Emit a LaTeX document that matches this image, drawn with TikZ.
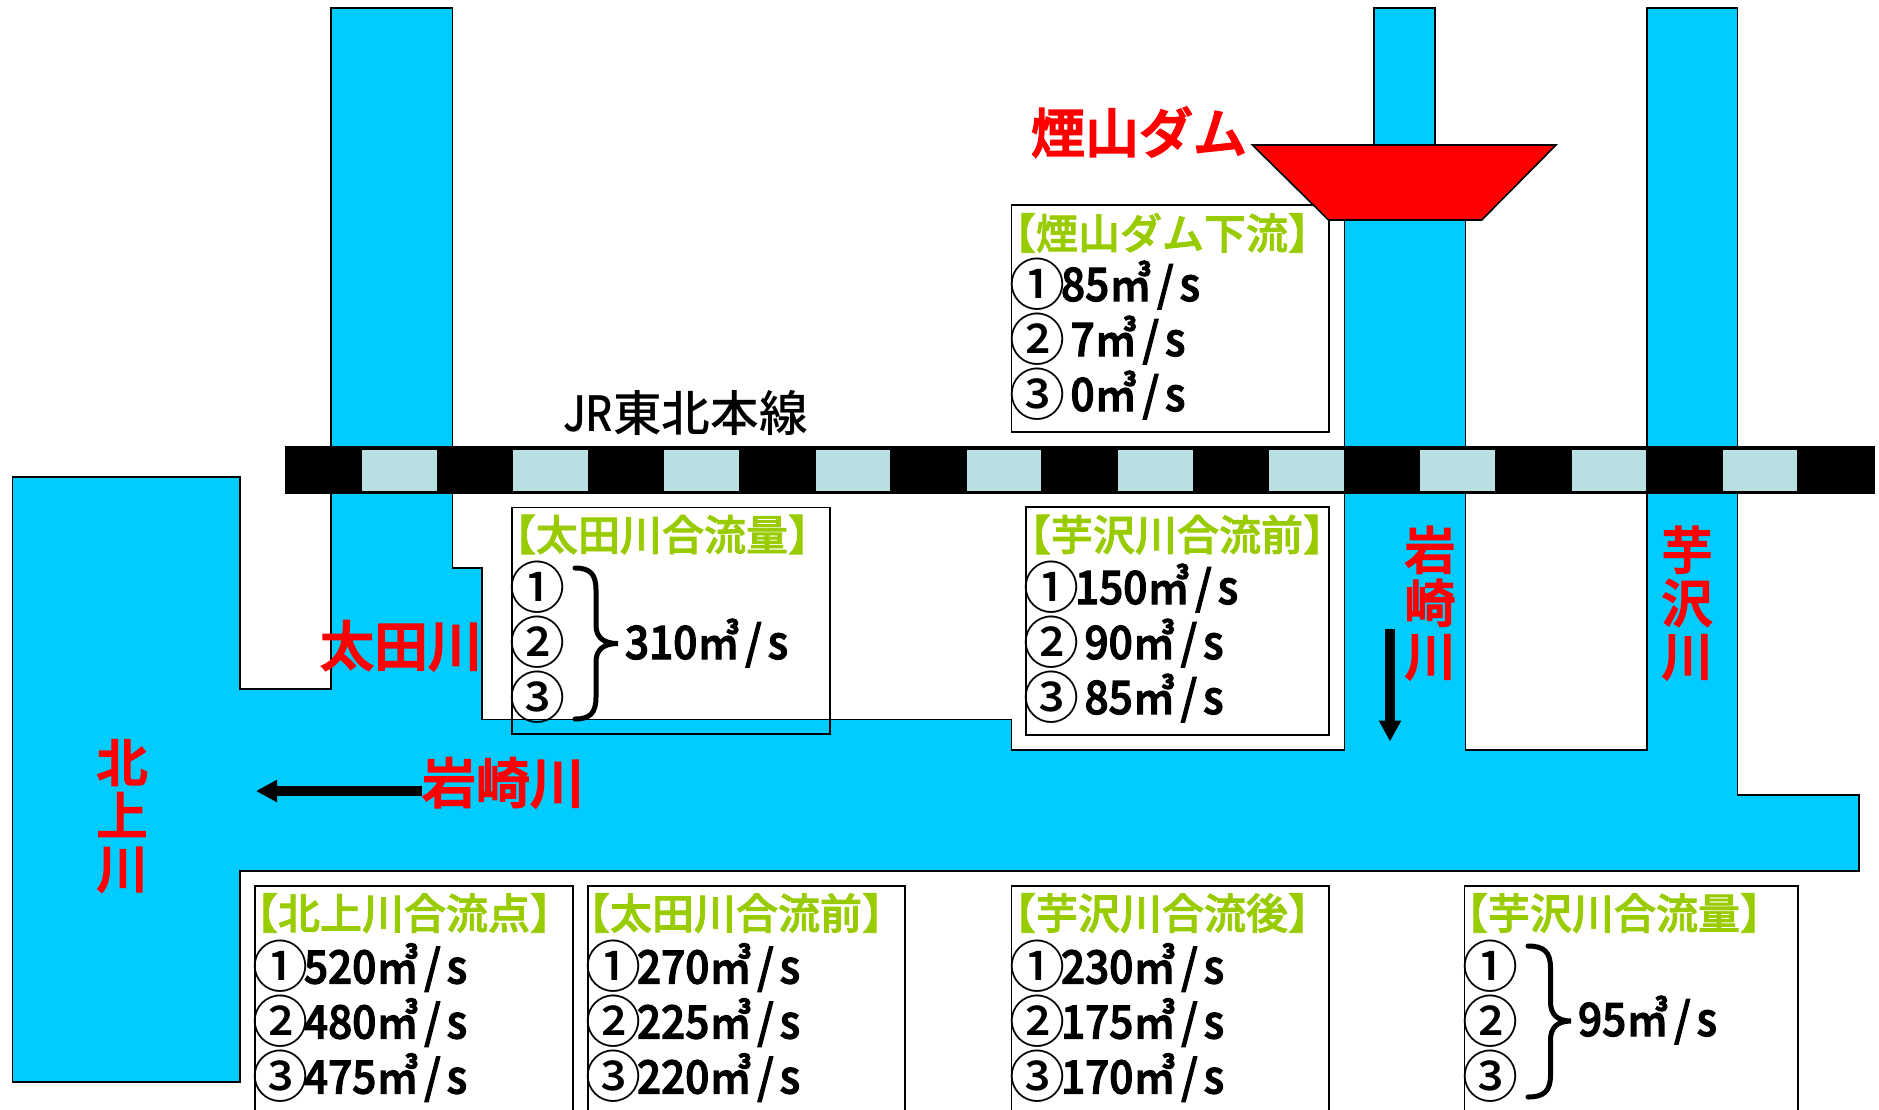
\documentclass[tikz,border=0pt]{standalone}
\usepackage{fontspec}
\setmainfont{Noto Sans CJK JP Medium}
\newfontfamily\narrowfont[FakeStretch=0.92,FakeBold=2.5]{Noto Sans CJK JP Medium}
\newfontfamily\railfont[FakeStretch=0.86]{Noto Sans CJK JP Medium}
\newfontfamily\ringfont{Noto Sans CJK JP Medium}
\newfontfamily\redfont[FakeBold=3]{Noto Sans CJK JP Medium}
\newfontfamily\titlefont[FakeBold=2]{Noto Sans CJK JP Medium}
\usetikzlibrary{arrows.meta}
\definecolor{riverblue}{HTML}{00CCFF}
\definecolor{cellblue}{HTML}{B9DFE3}
\definecolor{titlegreen}{HTML}{99CC00}
\newcommand\cnum[1]{\makebox[24pt][c]{\raisebox{-2pt}{\ringfont\fontsize{28}{30}\selectfont #1}}}
\newcommand\vol{㎥\kern2.8pt/\kern3pt s}
\tikzset{
  outlined/.style={draw=black,line width=0.8pt,line join=miter},
  riverarea/.style={outlined,fill=riverblue},
  noteframe/.style={draw=black,line width=0.9pt},
  lettering/.style={inner sep=0pt,outer sep=0pt,anchor=base west},
  titletxt/.style={lettering,text=titlegreen,font=\titlefont\fontsize{21}{23}\selectfont},
  flowtxt/.style={lettering,text=black,font=\narrowfont\fontsize{23}{25}\selectfont},
  railtxt/.style={lettering,text=black,font=\fontsize{24.3}{26}\selectfont},
  redtxt/.style={lettering,text=red,font=\redfont\fontsize{27}{29}\selectfont},
  redcol/.style={inner sep=0pt,outer sep=0pt,anchor=center,align=center,text=red,font=\redfont\fontsize{25.5}{26.5}\selectfont},
  bracepath/.style={draw=black,line width=2.5pt,line cap=round},
  flowarrow/.style={draw=black,line width=5pt,-{Triangle[length=10.5pt,width=10.5pt]}}
}
\begin{document}
\begin{tikzpicture}[x=0.5pt,y=-0.5pt]
\useasboundingbox (0,0) rectangle (1879,1109);
\clip (0,0) rectangle (1879,1109);
\fill[white] (0,0) rectangle (1879,1109);
% rivers
\draw[riverarea] (1374,8) rectangle (1434.7,150);
\draw[riverarea] (12.5,477) -- (240,477) -- (240,689) -- (331,689) -- (331,8) -- (452.6,8)
  -- (452.6,568) -- (482,568) -- (482,719.4) -- (1011.5,719.4) -- (1011.5,749.7)
  -- (1344.5,749.7) -- (1344.5,215) -- (1465.6,215) -- (1465.6,749.7) -- (1647,749.7)
  -- (1647,8) -- (1737.5,8) -- (1737.5,794.8) -- (1859,794.8) -- (1859,871) -- (240,871)
  -- (240,1082) -- (12.5,1082) -- cycle;
% railway
\fill[black] (284.5,446.4) rectangle (1875,493.8);
\foreach \k in {0,...,9}{
  \fill[cellblue] ({362+151.2*\k},449.5) rectangle ({436.5+151.2*\k},491);
}
% note frames
\draw[noteframe] (1011.5,204.6) rectangle (1328.6,432);
\draw[noteframe] (512,507.4) rectangle (830,734);
\draw[noteframe] (1026,506.6) rectangle (1328.6,735);
\draw[noteframe] (254.7,886) rectangle (573,1130);
\draw[noteframe] (588,886) rectangle (905,1130);
\draw[noteframe] (1011.5,886) rectangle (1328.6,1130);
\draw[noteframe] (1464.5,886) rectangle (1797.6,1130);
% dam
\draw[outlined,fill=red] (1252.4,145) -- (1556,145) -- (1481.7,220) -- (1328.6,220) -- cycle;
% labels
\node[redtxt] (damlabel) at (1031,153) {煙山ダム};
\node[redtxt] (otalabel) at (320,666) {太田川};
\node[redtxt] (iwahlabel) at (422,803) {岩崎川};
\node[redcol] (kitalabel) at (122,816) {北\\上\\川};
\node[redcol] (iwavlabel) at (1430,603) {岩\\崎\\川};
\node[redcol] (imolabel) at (1687,603) {芋\\沢\\川};
\node[railtxt] (raillabel) at (563,431) {{\railfont JR}東北本線};
% note: dam downstream
\node[titletxt] (t1) at (994,249) {【煙山ダム下流】};
\node[flowtxt] (a1) at (1013,301) {\cnum{①}85\vol};
\node[flowtxt] (a2) at (1013,356) {\cnum{②} 7\vol};
\node[flowtxt] (a3) at (1013,411) {\cnum{③} 0\vol};
% note: Ota inflow
\node[titletxt] (t2) at (494,550.5) {【太田川合流量】};
\node[flowtxt] (b1) at (513,604) {\cnum{①}};
\node[flowtxt] (b2) at (513,659) {\cnum{②}};
\node[flowtxt] (b3) at (513,714) {\cnum{③}};
\node[flowtxt] (b4) at (625,659) {310\vol};
% note: before Imozawa
\node[titletxt] (t3) at (1009,550.5) {【芋沢川合流前】};
\node[flowtxt] (c1) at (1027,604) {\cnum{①}150\vol};
\node[flowtxt] (c2) at (1027,659) {\cnum{②} 90\vol};
\node[flowtxt] (c3) at (1027,714) {\cnum{③} 85\vol};
% note: Kitakami confluence
\node[titletxt] (t4) at (236,929) {【北上川合流点】};
\node[flowtxt] (d1) at (256,983.5) {\cnum{①}520\vol};
\node[flowtxt] (d2) at (256,1038.5) {\cnum{②}480\vol};
\node[flowtxt] (d3) at (256,1093.5) {\cnum{③}475\vol};
% note: before Ota
\node[titletxt] (t5) at (568,929) {【太田川合流前】};
\node[flowtxt] (e1) at (589,983.5) {\cnum{①}270\vol};
\node[flowtxt] (e2) at (589,1038.5) {\cnum{②}225\vol};
\node[flowtxt] (e3) at (589,1093.5) {\cnum{③}220\vol};
% note: after Imozawa
\node[titletxt] (t6) at (994,929) {【芋沢川合流後】};
\node[flowtxt] (f1) at (1013,983.5) {\cnum{①}230\vol};
\node[flowtxt] (f2) at (1013,1038.5) {\cnum{②}175\vol};
\node[flowtxt] (f3) at (1013,1093.5) {\cnum{③}170\vol};
% note: Imozawa inflow
\node[titletxt] (t7) at (1446,929) {【芋沢川合流量】};
\node[flowtxt] (g1) at (1466,983.5) {\cnum{①}};
\node[flowtxt] (g2) at (1466,1038.5) {\cnum{②}};
\node[flowtxt] (g3) at (1466,1093.5) {\cnum{③}};
\node[flowtxt] (g4) at (1578,1036) {95\vol};
% braces
\draw[bracepath] (575,568) .. controls (590,568) and (596,574) .. (596,590) -- (596,625)
  .. controls (596,637) and (603,643.5) .. (618,643.5)
  .. controls (603,643.5) and (596,650) .. (596,662) -- (596,697)
  .. controls (596,713) and (590,719) .. (575,719);
\draw[bracepath] (1528,946) .. controls (1544,946) and (1550.5,952) .. (1550.5,968) -- (1550.5,1002)
  .. controls (1550.5,1014) and (1557,1021) .. (1571,1021)
  .. controls (1557,1021) and (1550.5,1028) .. (1550.5,1040) -- (1550.5,1075)
  .. controls (1550.5,1091) and (1544,1097) .. (1528,1097);
% arrows
\coordinate (leftstart) at (421.7,791);
\coordinate (leftend) at (256,791);
\coordinate (downstart) at (1390,629);
\coordinate (downend) at (1390,741.5);
\draw[flowarrow] (leftstart) -- (leftend);
\draw[flowarrow] (downstart) -- (downend);
\end{tikzpicture}
\end{document}
